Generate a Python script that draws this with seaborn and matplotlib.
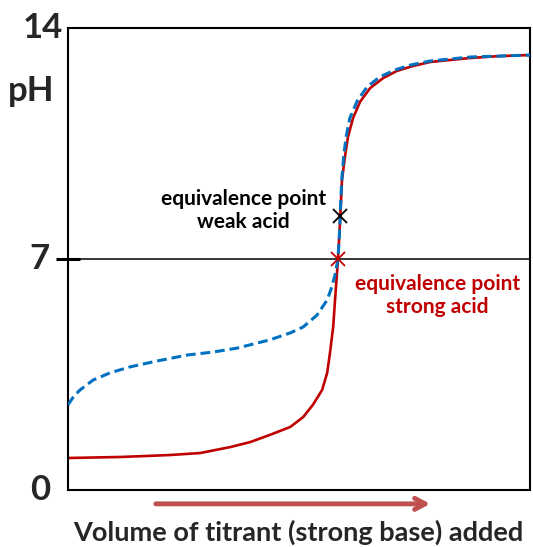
import matplotlib
matplotlib.use('Agg')
import matplotlib.pyplot as plt
import seaborn as sns
import pandas as pd

# Titration curves (volume as % of axis, pH)
strong_vol = [0.0, 11.3, 22.1, 28.6, 35.1, 39.4, 43.7, 48.1, 50.9, 53.0, 55.0, 56.1,
              56.7, 57.4, 57.8, 58.4, 58.9, 59.3, 60.0, 60.6, 61.7, 63.2, 65.4, 68.2,
              71.2, 74.7, 78.4, 87.0, 93.5, 100]
strong_ph = [0.97, 1.00, 1.06, 1.12, 1.30, 1.45, 1.67, 1.91, 2.21, 2.58, 3.03, 3.55,
             4.15, 4.94, 5.76, 6.91, 8.18, 9.39, 10.15, 10.70, 11.27, 11.76, 12.18, 12.48,
             12.70, 12.85, 12.97, 13.09, 13.15, 13.18]

weak_vol = [0.0, 1.3, 2.6, 5.4, 9.1, 13.4, 19.3, 25.8, 31.4, 36.6, 43.7, 48.1, 50.9,
            53.9, 56.1, 57.1, 57.8, 58.4, 58.7, 58.9, 59.1, 59.3, 59.7, 60.2, 61.0,
            62.6, 64.7, 67.5, 70.8, 74.2, 78.4, 87.0, 93.5, 100]
weak_ph = [2.58, 2.85, 3.03, 3.33, 3.55, 3.73, 3.91, 4.09, 4.18, 4.30, 4.55, 4.76, 4.94,
           5.30, 5.76, 6.15, 6.52, 6.97, 7.58, 8.27, 8.94, 9.48, 10.15, 10.70, 11.27,
           11.79, 12.21, 12.52, 12.73, 12.88, 13.00, 13.12, 13.15, 13.18]

eq_strong = (58.4, 7.0)
eq_weak = (58.9, 8.3)

red = '#c00000'
blue = '#0070c0'

sns.set_style('white')
plt.rcParams['font.family'] = ['Lato', 'DejaVu Sans']
plt.rcParams['font.weight'] = 'bold'

df_s = pd.DataFrame({'vol': strong_vol, 'pH': strong_ph})
df_w = pd.DataFrame({'vol': weak_vol, 'pH': weak_ph})

fig = plt.figure(figsize=(5.33, 5.47), dpi=100)
ax = fig.add_axes([68 / 533, 57 / 547, 462 / 533, 462 / 547])

ax.axhline(7, color='black', lw=1.1, zorder=1)
sns.lineplot(data=df_s, x='vol', y='pH', color=red, lw=1.9, sort=False, ax=ax, zorder=2)
sns.lineplot(data=df_w, x='vol', y='pH', color=blue, lw=2.2, sort=False, ax=ax,
             zorder=3, dashes=False)
ax.lines[-1].set_dashes((3.2, 1.6))

ax.plot(*eq_weak, marker='x', color='black', ms=10, mew=1.3, zorder=4)
ax.plot(*eq_strong, marker='x', color=red, ms=10, mew=1.3, zorder=4)

ax.text(37.9, 8.48, 'equivalence point\nweak acid', ha='center', va='center',
        fontsize=15, color='black', linespacing=1.2)
ax.text(79.9, 5.89, 'equivalence point\nstrong acid', ha='center', va='center',
        fontsize=15, color=red, linespacing=1.2)

ax.set_xlim(0, 100)
ax.set_ylim(0, 14)
ax.set_xticks([])
ax.set_yticks([7])
ax.set_yticklabels([])
ax.tick_params(axis='y', direction='inout', length=17, width=2.2, color='black', left=True)
ax.set_xlabel('')
ax.set_ylabel('')
for s in ax.spines.values():
    s.set_color('black')
    s.set_linewidth(1.5)

tr = ax.get_yaxis_transform()
ax.text(-0.011, 14, '14', transform=tr, ha='right', va='center', fontsize=25)
ax.text(-0.03, 12.1, 'pH', transform=tr, ha='right', va='center', fontsize=25)
ax.text(-0.039, 7, '7', transform=tr, ha='right', va='center', fontsize=25)
ax.text(-0.039, 0, '0', transform=tr, ha='right', va='center', fontsize=25)

ax.annotate('', xy=(0.79, -0.030), xytext=(0.184, -0.030), xycoords='axes fraction',
            arrowprops=dict(arrowstyle='->,head_length=0.75,head_width=0.4',
                            color='#c0504d', lw=3.5), annotation_clip=False)
ax.text(0.499, -0.091, 'Volume of titrant (strong base) added', transform=ax.transAxes,
        ha='center', va='center', fontsize=19.5)

fig.savefig('out.png', dpi=100)
